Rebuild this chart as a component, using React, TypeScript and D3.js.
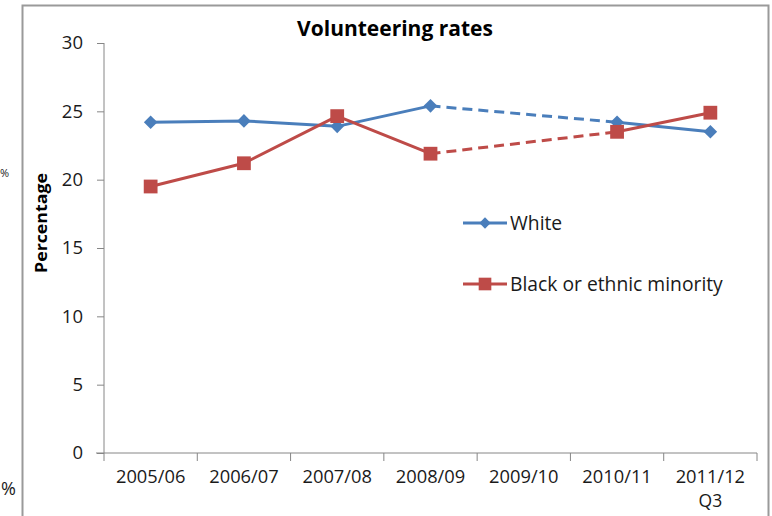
import { useRef, useEffect } from "react";
import * as d3 from "d3";

const categories = ["2005/06", "2006/07", "2007/08", "2008/09", "2009/10", "2010/11", "2011/12"];
const white: (number | null)[] = [24.2, 24.3, 23.9, 25.4, null, 24.2, 23.5];
const minority: (number | null)[] = [19.5, 21.2, 24.65, 21.9, null, 23.5, 24.9];
const yTicks = [0, 5, 10, 15, 20, 25, 30];
const seriesNames = ["White", "Black or ethnic minority"];

const BLUE = "#4a7ebb";
const RED = "#be4b48";
const FONT = "'Open Sans', sans-serif";
const INK = "#1a1a1a";

export default function App() {
  const svgRef = useRef<SVGSVGElement>(null);

  useEffect(() => {
    const svg = svgRef.current;
    if (!svg) return;
    const width = 772;
    const height = 516;
    const plot = { left: 104, right: 757, top: 43, bottom: 453 };

    const x = d3.scaleBand<string>().domain(categories).range([plot.left, plot.right]);
    const y = d3.scaleLinear().domain([0, 30]).range([plot.bottom, plot.top]);
    const cx = (c: string) => (x(c) ?? 0) + x.bandwidth() / 2;

    const sel = d3.select(svg);
    sel.selectAll("*").remove();
    sel.attr("width", width).attr("height", height);

    // chart frame
    sel.append("path")
      .attr("d", `M22.5,${height}V5.5H768.5V${height}`)
      .attr("fill", "none")
      .attr("stroke", "#9a9a9a")
      .attr("stroke-width", 2);

    // bits from the neighbouring chart, at the left edge
    sel.append("text").attr("x", 0).attr("y", 177).attr("font-family", FONT).attr("font-size", 11).attr("fill", INK).text("%");
    sel.append("text").attr("x", 1).attr("y", 495).attr("font-family", FONT).attr("font-size", 18).attr("fill", INK).text("%");

    // title
    sel.append("text")
      .attr("x", 395).attr("y", 36)
      .attr("text-anchor", "middle")
      .attr("font-family", FONT).attr("font-weight", "bold").attr("font-size", 21)
      .attr("fill", "#000")
      .text("Volunteering rates");

    // y axis
    const ya = sel.append("g")
      .attr("transform", `translate(${plot.left},0)`)
      .call(d3.axisLeft(y).tickValues(yTicks).tickSize(7).tickPadding(14));
    ya.selectAll("text").attr("font-family", FONT).attr("font-size", 18.5).attr("fill", INK);
    ya.selectAll("line,path").attr("stroke", "#868686");
    ya.select(".domain").attr("d", `M0,${plot.top}V${plot.bottom}`);

    sel.append("text")
      .attr("transform", `translate(47,223) rotate(-90)`)
      .attr("text-anchor", "middle")
      .attr("font-family", FONT).attr("font-weight", "bold").attr("font-size", 16)
      .attr("textLength", 100).attr("lengthAdjust", "spacingAndGlyphs")
      .attr("fill", "#000")
      .text("Percentage");

    // x axis
    const xa = sel.append("g")
      .attr("transform", `translate(0,${plot.bottom})`)
      .call(d3.axisBottom(x).tickSize(0).tickPadding(17));
    xa.selectAll("text").attr("font-family", FONT).attr("font-size", 18.3).attr("fill", INK);
    xa.select(".domain").attr("d", `M${plot.left - 8},0H${plot.right}`).attr("stroke", "#868686");
    const edges = [...categories.map((c) => x(c) ?? 0), plot.right];
    xa.selectAll("line.edge")
      .data(edges)
      .join("line")
      .attr("x1", (d) => d).attr("x2", (d) => d)
      .attr("y1", 0).attr("y2", 8)
      .attr("stroke", "#868686");
    xa.append("text")
      .attr("x", cx(categories[categories.length - 1]))
      .attr("y", 54)
      .attr("text-anchor", "middle")
      .attr("font-family", FONT).attr("font-size", 17.5).attr("fill", INK)
      .text("Q3");

    const drawSeries = (vals: (number | null)[], color: string, shape: "diamond" | "square") => {
      const pts = categories.map((c, i) => ({ c, v: vals[i] }));
      const line = d3.line<{ c: string; v: number | null }>()
        .defined((d) => d.v != null)
        .x((d) => cx(d.c))
        .y((d) => y(d.v as number));
      const valid = pts.filter((d) => d.v != null);
      // dashed bridge across the missing year
      const gapIdx = pts.findIndex((d) => d.v == null);
      if (gapIdx > 0) {
        const before = pts[gapIdx - 1];
        const after = pts.slice(gapIdx).find((d) => d.v != null);
        if (after) {
          sel.append("path")
            .attr("d", line([before, after]) ?? "")
            .attr("fill", "none").attr("stroke", color)
            .attr("stroke-width", 3).attr("stroke-dasharray", "10,6");
        }
      }
      sel.append("path")
        .attr("d", line(pts) ?? "")
        .attr("fill", "none").attr("stroke", color)
        .attr("stroke-width", 3).attr("stroke-linejoin", "round");
      const sym = d3.symbol().type(d3.symbolSquare).size(shape === "diamond" ? 92 : 190);
      sel.selectAll(`path.m-${shape}`)
        .data(valid)
        .join("path")
        .attr("class", `m-${shape}`)
        .attr("transform", (d) => `translate(${cx(d.c)},${y(d.v as number)})${shape === "diamond" ? " rotate(45)" : ""}`)
        .attr("d", sym() ?? "")
        .attr("fill", color);
    };

    drawSeries(white, BLUE, "diamond");
    drawSeries(minority, RED, "square");

    // legend
    const legend = [
      { name: seriesNames[0], color: BLUE, shape: "diamond", y: 223 },
      { name: seriesNames[1], color: RED, shape: "square", y: 284 },
    ];
    legend.forEach((l) => {
      const g = sel.append("g").attr("transform", `translate(463,${l.y})`);
      g.append("line").attr("x1", 0).attr("x2", 44).attr("stroke", l.color).attr("stroke-width", 3);
      g.append("path")
        .attr("transform", `translate(22,0)${l.shape === "diamond" ? " rotate(45)" : ""}`)
        .attr("d", d3.symbol().type(d3.symbolSquare).size(l.shape === "diamond" ? 64 : 160)() ?? "")
        .attr("fill", l.color);
      g.append("text")
        .attr("x", 47).attr("y", 6.5)
        .attr("font-family", FONT).attr("font-size", 19.3).attr("fill", INK)
        .text(l.name);
    });
  }, []);

  return <svg ref={svgRef} style={{ position: "absolute", left: 0, top: 0, background: "#fff" }} />;
}
